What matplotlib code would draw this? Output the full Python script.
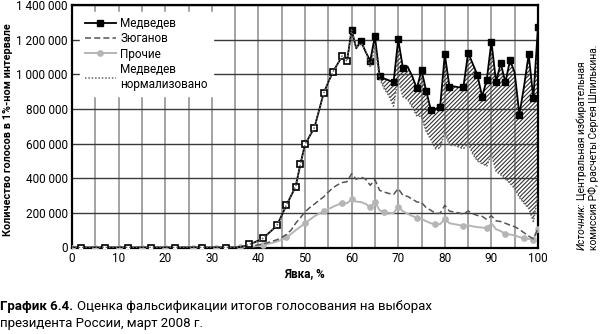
import matplotlib
matplotlib.use("Agg")
import matplotlib.pyplot as plt
import numpy as np

plt.rcParams['font.family'] = ['Roboto', 'DejaVu Sans']
plt.rcParams['hatch.linewidth'] = 0.8
plt.rcParams['hatch.color'] = '#333333'

# Turnout, % (1%-wide bins)
turnout = list(range(0, 101))

# Votes per 1% turnout bin, thousands
medvedev = [0] * 36 + [
    3, 8, 18, 28, 40, 53, 78, 102, 129, 185,            # 36-45
    244, 298, 352, 480, 595, 643, 691, 790, 890, 955,   # 46-55
    1014, 1060, 1106, 1074, 1256, 1150, 1192, 1130, 1078, 1221,  # 56-65
    991, 975, 965, 953, 1202, 1039, 1045, 990, 918, 1024,        # 66-75
    905, 796, 800, 813, 1116, 928, 930, 925, 928, 1125,          # 76-85
    1060, 997, 871, 967, 1189, 957, 1064, 953, 1082, 1010,       # 86-95
    767, 930, 1116, 861, 1275]                                   # 96-100

zyuganov = [0] * 36 + [
    2, 4, 7, 11, 15, 21, 28, 36, 45, 58,
    75, 100, 140, 172, 205, 230, 250, 272, 292, 320,
    345, 362, 375, 380, 426, 394, 407, 395, 359, 392,
    330, 320, 312, 306, 340, 302, 295, 280, 263, 260,
    230, 215, 196, 198, 244, 210, 205, 200, 192, 211,
    195, 185, 180, 162, 183, 154, 150, 140, 129, 120,
    105, 85, 66, 50, 110]

others = [0] * 36 + [
    1, 2, 3, 6, 10, 15, 20, 27, 35, 45,
    58, 78, 100, 120, 140, 160, 180, 195, 210, 222,
    235, 247, 258, 255, 278, 265, 262, 252, 232, 264,
    215, 205, 200, 198, 236, 210, 195, 182, 171, 165,
    152, 140, 134, 135, 164, 140, 135, 130, 125, 128,
    122, 118, 115, 112, 140, 105, 95, 78, 75, 70,
    60, 53, 50, 45, 105]

medvedev_norm = medvedev[:61] + [
    1150, 1180, 1140, 1040, 1164, 975, 917, 876, 815, 975,   # 61-70
    870, 855, 810, 760, 755, 670, 625, 570, 575, 665,        # 71-80
    590, 590, 580, 570, 600, 540, 500, 484, 470, 541,        # 81-90
    440, 420, 395, 370, 340, 290, 255, 225, 150, 300]        # 91-100

# Bins carrying a marker
med_marks_low = [2, 7, 12, 17, 22, 28, 33, 38, 41, 44, 46, 48, 49, 50,
                 52, 54, 56, 58, 59]
med_marks_high = [60, 62, 64, 65, 66, 69, 70, 71, 74, 75, 76, 77, 79, 80,
                  81, 84, 85, 87, 88, 89, 90, 91, 92, 93, 94, 96, 98, 99, 100]
oth_marks = [0, 5, 10, 15, 20, 26, 31, 36, 41, 46, 50, 54, 58, 60, 64, 65,
             67, 70, 74, 78, 80, 84, 89, 93, 97, 99, 100]

t = np.array(turnout)
med = np.array(medvedev) * 1000
zyu = np.array(zyuganov) * 1000
oth = np.array(others) * 1000
norm = np.array(medvedev_norm) * 1000

W, H = 603, 334
fig = plt.figure(figsize=(W / 100, H / 100), dpi=100)


def fx(px):
    return px / W


def fy(py):
    return 1 - py / H


ax = fig.add_axes([fx(72), fy(247.5), fx(538) - fx(72), fy(5) - fy(247.5)])
ax.set_xlim(0, 100)
ax.set_ylim(0, 1400000)
ax.set_axisbelow(True)

ax.set_xticks(range(0, 101, 10))
ax.set_xticks(range(0, 101, 5), minor=True)
ax.set_yticks(range(0, 1400001, 200000))
ax.yaxis.set_major_formatter(
    matplotlib.ticker.FuncFormatter(lambda v, p: f"{int(v):,}".replace(",", " ")))
ax.grid(axis='x', which='both', color='#8a8a8a', linewidth=1.1)
ax.grid(axis='y', which='major', color='#3a3a3a', linewidth=1.0)
ax.tick_params(which='both', length=0, labelsize=8.5, pad=3)
for s in ax.spines.values():
    s.set_linewidth(1.6)
    s.set_color('black')

# Excess of Medvedev votes over the normalized curve
ax.fill_between(t, norm, med, where=med >= norm, interpolate=True,
                facecolor='none', edgecolor='#333333', hatch='////////',
                linewidth=0, zorder=2)

ax.plot(t, oth, color='#b5b5b5', linewidth=1.4, marker='o', markersize=3.8,
        markevery=oth_marks, label='Прочие', zorder=3)
ax.plot(t, zyu, color='#555555', linewidth=1.1, linestyle=(0, (4, 2)),
        label='Зюганов', zorder=3)
ax.plot(t, med, color='black', linewidth=1.3, marker='s', markersize=3.8,
        markevery=med_marks_high, label='Медведев', zorder=4)
ax.plot(t[med_marks_low], med[med_marks_low], linestyle='none', marker='s',
        markersize=3.8, markerfacecolor='white', markeredgecolor='black',
        markeredgewidth=1.2, zorder=5)
ax.plot(t, norm, color='#666666', linewidth=1.1, linestyle=(0, (1, 1.2)),
        label='Медведев\nнормализовано', zorder=6)

handles, labels = ax.get_legend_handles_labels()
order = [labels.index(n) for n in ['Медведев', 'Зюганов', 'Прочие', 'Медведев\nнормализовано']]
leg = ax.legend([handles[i] for i in order], [labels[i] for i in order],
                loc='upper left', bbox_to_anchor=(0.005, 0.995), fontsize=8.5,
                frameon=True, fancybox=False, edgecolor='white', facecolor='white',
                framealpha=1, borderpad=0.4, handlelength=2.6, handletextpad=0.4,
                labelspacing=0.2)
leg.set_zorder(10)

ax.set_xlabel('Явка, %', fontsize=8.5, fontweight='bold', labelpad=2)
fig.text(fx(8), fy(130), 'Количество голосов в 1%-ном интервале', rotation=90,
         ha='center', va='center', fontsize=7.8, fontweight='bold')

# Source note, rotated along the right edge
fig.canvas.draw()
rend = fig.canvas.get_renderer()
src1 = fig.text(fx(581.5), fy(250), 'Источник:', rotation=90, rotation_mode='anchor',
                ha='left', va='center', fontsize=7.4, fontstyle='italic')
bb = src1.get_window_extent(rend)
fig.text(fx(581.5), bb.y1 / (fig.dpi * fig.get_figheight()) + 0.008,
         'Центральная избирательная', rotation=90, rotation_mode='anchor',
         ha='left', va='center', fontsize=7.4)
fig.text(fx(593.5), fy(250), 'комиссия РФ, расчеты Сергея Шпилькина.', rotation=90,
         rotation_mode='anchor', ha='left', va='center', fontsize=7.4)

# Caption
fig.text(0, fy(310), 'График 6.4.', ha='left', va='baseline',
         fontsize=9.5, fontweight='bold')
fig.text(fx(77), fy(310), 'Оценка фальсификации итогов голосования на выборах',
         ha='left', va='baseline', fontsize=9.5)
fig.text(0, fy(327), 'президента России, март 2008 г.', ha='left', va='baseline',
         fontsize=9.5)

fig.savefig('out.png', dpi=100)
